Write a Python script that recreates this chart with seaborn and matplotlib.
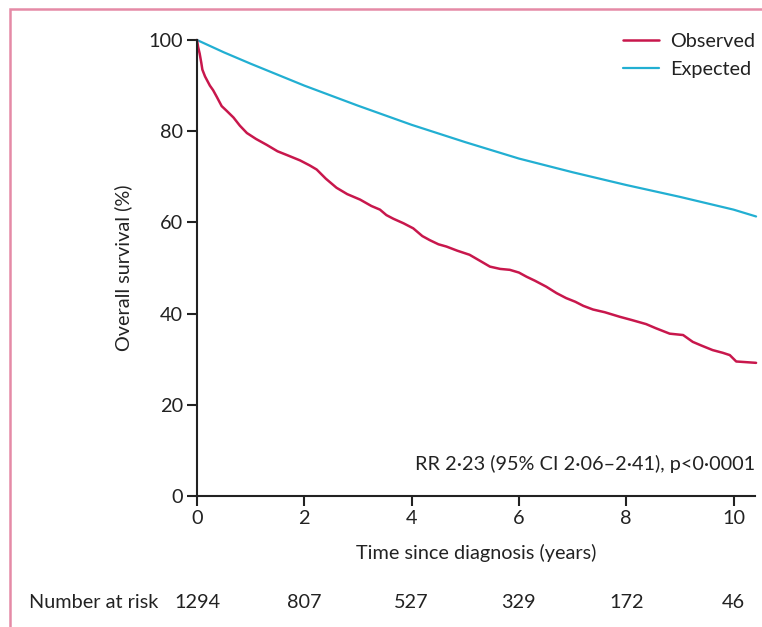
import matplotlib
matplotlib.use("Agg")
import matplotlib.pyplot as plt
import matplotlib.patches as mpatches
import matplotlib.transforms as mtransforms
import seaborn as sns
import pandas as pd

sns.set_theme(style="white")
plt.rcParams['font.family'] = ['Lato', 'DejaVu Sans']

# Observed (Kaplan-Meier) survival
obs_time = [0, 0.02, 0.05, 0.08, 0.10, 0.15, 0.24, 0.30, 0.37, 0.46, 0.55, 0.68,
            0.80, 0.93, 1.10, 1.30, 1.50, 1.67, 1.92, 2.10, 2.23, 2.40, 2.60, 2.80,
            3.04, 3.25, 3.41, 3.53, 3.66, 3.85, 4.03, 4.20, 4.34, 4.50, 4.65, 4.85,
            5.08, 5.30, 5.46, 5.65, 5.83, 6.00, 6.14, 6.30, 6.51, 6.70, 6.88, 7.05,
            7.20, 7.38, 7.60, 7.88, 8.10, 8.37, 8.55, 8.81, 9.06, 9.24, 9.40, 9.61,
            9.80, 9.93, 10.05, 10.42]
obs_surv = [100, 98.5, 97.0, 95.0, 93.5, 92.0, 90.0, 89.0, 87.5, 85.5, 84.5, 83.0,
            81.2, 79.6, 78.3, 77.0, 75.6, 74.8, 73.6, 72.5, 71.6, 69.6, 67.6, 66.2,
            65.0, 63.6, 62.8, 61.6, 60.8, 59.8, 58.7, 57.0, 56.1, 55.2, 54.7, 53.8,
            52.9, 51.4, 50.3, 49.8, 49.6, 49.0, 48.1, 47.2, 45.9, 44.5, 43.4, 42.6,
            41.7, 40.9, 40.3, 39.3, 38.6, 37.7, 36.8, 35.6, 35.3, 33.8, 33.0, 32.0,
            31.4, 30.9, 29.5, 29.2]

# Expected survival
exp_time = [0, 0.5, 1, 2, 3, 4, 5, 6, 7, 8, 9, 10, 10.42]
exp_surv = [100, 97.3, 94.8, 90.0, 85.6, 81.4, 77.6, 74.0, 71.0, 68.2, 65.6, 62.8, 61.3]

risk_times = [0, 2, 4, 6, 8, 10]
risk_counts = [1294, 807, 527, 329, 172, 46]

x_ticks = [0, 2, 4, 6, 8, 10]
y_ticks = [0, 20, 40, 60, 80, 100]

obs_color = "#c8174c"
exp_color = "#22afd2"
text_color = "#222222"
fs = 14.3

fig = plt.figure(figsize=(7.62, 6.27), dpi=100)
ax = fig.add_axes([197/762, 1 - 496/627, (755-197)/762, (496-40)/627])

obs_df = pd.DataFrame({"t": obs_time, "s": obs_surv})
exp_df = pd.DataFrame({"t": exp_time, "s": exp_surv})

sns.lineplot(data=exp_df, x="t", y="s", ax=ax, color=exp_color, lw=1.6,
             estimator=None, sort=False, clip_on=False, label="Expected")
sns.lineplot(data=obs_df, x="t", y="s", ax=ax, color=obs_color, lw=1.8,
             estimator=None, sort=False, clip_on=False, label="Observed")

ax.set_xlim(0, 10.4)
ax.set_ylim(0, 100)
ax.set_xticks(x_ticks)
ax.set_yticks(y_ticks)
ax.tick_params(axis="both", direction="out", length=7, width=1.5, color="#222222",
               labelsize=fs, labelcolor=text_color, pad=3, bottom=True, left=True)
for side in ["top", "right"]:
    ax.spines[side].set_visible(False)
for side in ["left", "bottom"]:
    ax.spines[side].set_color("#222222")
    ax.spines[side].set_linewidth(1.5)

ax.set_xlabel("Time since diagnosis (years)", fontsize=fs, color=text_color, labelpad=12)
ax.set_ylabel("Overall survival (%)", fontsize=fs, color=text_color, labelpad=12)

# Legend (Observed first)
handles, labels = ax.get_legend_handles_labels()
order = [labels.index("Observed"), labels.index("Expected")]
leg = ax.legend([handles[i] for i in order], [labels[i] for i in order],
                loc="upper right", bbox_to_anchor=(1.014, 1.033), frameon=False,
                fontsize=fs, handlelength=1.8, handletextpad=0.55, labelspacing=0.55,
                borderaxespad=0)
for txt in leg.get_texts():
    txt.set_color(text_color)

ax.text(1.0, 0.07, "RR 2·23 (95% CI 2·06–2·41), p<0·0001", transform=ax.transAxes,
        ha="right", va="center", fontsize=fs, color=text_color)

# Number at risk row
trans = mtransforms.blended_transform_factory(ax.transData, fig.transFigure)
fig.text(29/762, 1 - 602/627, "Number at risk", ha="left", va="center",
         fontsize=fs, color=text_color)
for t, n in zip(risk_times, risk_counts):
    ax.text(t, 1 - 602/627, str(n), transform=trans, ha="center", va="center",
            fontsize=fs, color=text_color, clip_on=False)

# Pink frame (right/bottom edges lie outside the image)
frame = mpatches.Rectangle((10/762, -0.2), 1.2, 1 - 9/627 + 0.2,
                           transform=fig.transFigure, fill=False,
                           edgecolor="#e58aa6", lw=1.8, clip_on=False)
fig.patches.append(frame)

fig.savefig("out.png", dpi=100)
